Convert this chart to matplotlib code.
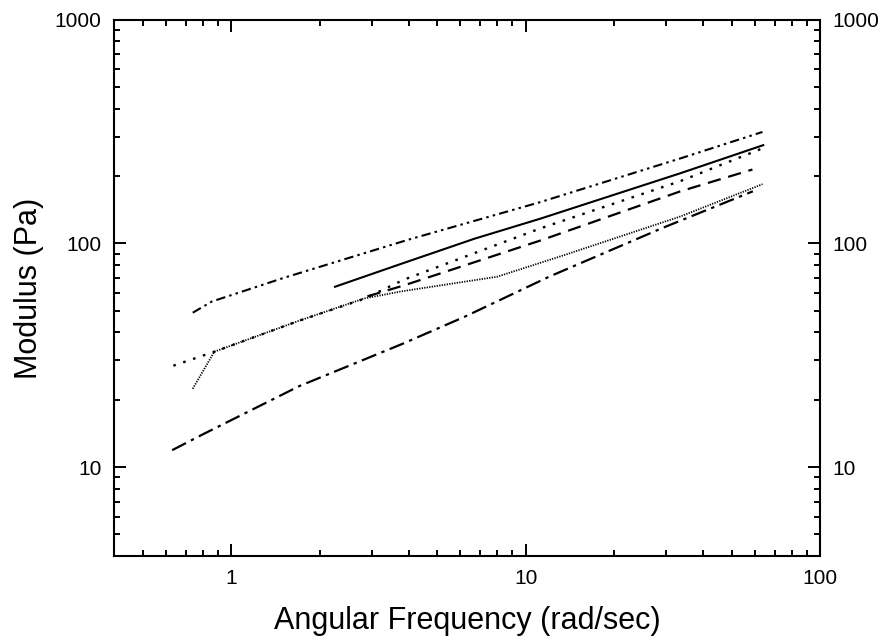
import numpy as np
import matplotlib.pyplot as plt
from matplotlib.ticker import LogLocator, NullFormatter

plt.rcParams['font.family'] = ['Liberation Sans', 'DejaVu Sans']

# %% data (rad/sec, Pa)
x_ddot = [0.74, 0.86, 1.5, 4.0, 11.2, 33.5, 63.6]
y_ddot = [49, 55, 70, 104, 153, 240, 315]

x_solid = [2.25, 3.77, 6.7, 11.2, 33.5, 64.0]
y_solid = [64, 81, 105, 129, 206, 275]

x_sdot = [0.636, 0.876, 1.69, 2.82, 3.87, 11.2, 33.5, 63.6]
y_sdot = [28.4, 32.8, 45.0, 56.5, 69.0, 116.7, 190, 266]

x_dash = [2.9, 3.87, 11.2, 33.5, 58.8]
y_dash = [58, 65, 103, 171, 214]

x_fdot = [0.74, 0.876, 1.69, 2.82, 3.77, 8.0, 13.1, 33.5, 63.6]
y_fdot = [22.4, 32.8, 45.0, 56.7, 61.0, 71.0, 87.5, 132, 184]

x_dd = [0.63, 0.8, 1.7, 3.8, 6.2, 12.0, 29.0, 59.0]
y_dd = [11.9, 14.0, 23.0, 35.5, 47.0, 71.0, 117, 171]

# %%
fig = plt.figure(figsize=(8.84, 6.37), dpi=100)
ax = fig.add_axes([0.129, 0.127, 0.799, 0.842])

ax.plot(x_ddot, y_ddot, color='k', lw=1.5, dashes=(4.5, 2, 1.2, 2, 1.2, 2))
ax.plot(x_solid, y_solid, color='k', lw=1.5, linestyle='-')
ax.plot(x_sdot, y_sdot, color='k', lw=1.7, dashes=(1.1, 3.3))
ax.plot(x_dash, y_dash, color='k', lw=1.6, dashes=(6, 3.5))
ax.plot(x_fdot, y_fdot, color='k', lw=1.3, dashes=(0.7, 0.7))
ax.plot(x_dd, y_dd, color='k', lw=1.6, dashes=(7, 2.5, 1.5, 2.5))

ax.set_xscale('log')
ax.set_yscale('log')
ax.set_xlim(0.4, 100)
ax.set_ylim(4, 1000)

ax.xaxis.set_minor_locator(LogLocator(base=10, subs=np.arange(2, 10)))
ax.yaxis.set_minor_locator(LogLocator(base=10, subs=np.arange(2, 10)))
ax.xaxis.set_minor_formatter(NullFormatter())
ax.yaxis.set_minor_formatter(NullFormatter())
ax.set_xticks([1, 10, 100])
ax.set_xticklabels(['1', '10', '100'])
ax.set_yticks([10, 100, 1000])
ax.set_yticklabels(['10', '100', '1000'])

ax.tick_params(which='both', direction='in', top=True, right=True, width=1.4,
               labelsize=15, labelright=True)
ax.tick_params(which='major', length=8.5, pad=9)
ax.tick_params(which='minor', length=4.3)
for s in ax.spines.values():
    s.set_linewidth(1.5)

ax.set_xlabel('Angular Frequency (rad/sec)', fontsize=22, labelpad=13)
ax.set_ylabel('Modulus (Pa)', fontsize=22, labelpad=8)

plt.savefig('out.png', dpi=100)
